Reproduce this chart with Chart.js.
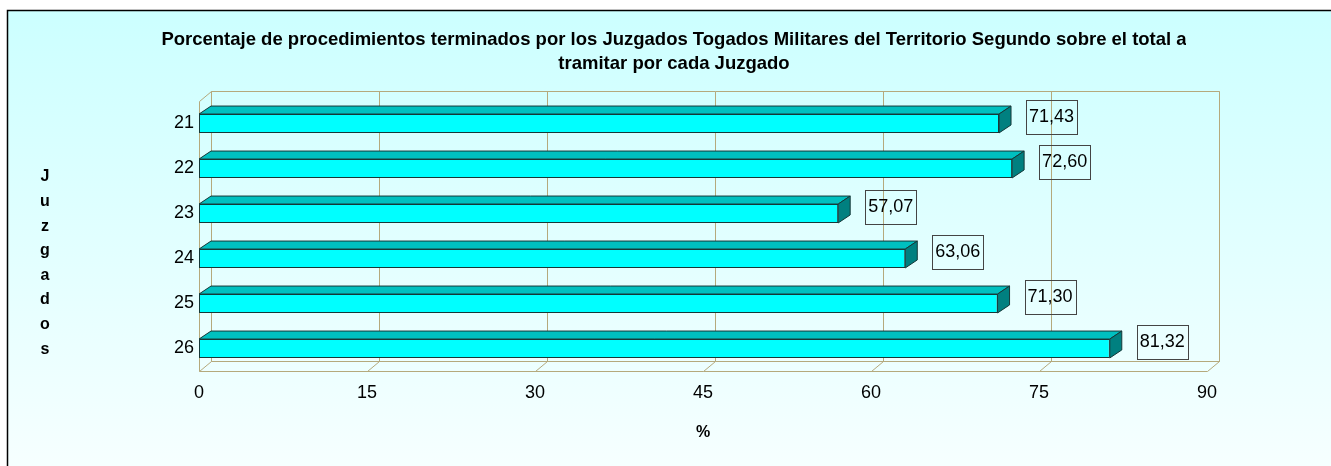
<!DOCTYPE html>
<html>
<head>
<meta charset="utf-8">
<script src="https://cdn.jsdelivr.net/npm/chart.js@4.4.1/dist/chart.umd.min.js"></script>
<style>
body { margin: 0; background: #fff; }
canvas { display: block; }
</style>
</head>
<body>
<canvas id="grafico" width="1331" height="466"></canvas>
<script>
const juzgados = ["21", "22", "23", "24", "25", "26"];
const porcentajes = [71.43, 72.60, 57.07, 63.06, 71.30, 81.32];
const ticksX = [0, 15, 30, 45, 60, 75, 90];
const titulo = ["Porcentaje de procedimientos terminados por los Juzgados Togados Militares del Territorio Segundo sobre el total a",
                "tramitar por cada Juzgado"];
const tituloY = ["J", "u", "z", "g", "a", "d", "o", "s"];

const fuente = "'Liberation Sans', Arial, sans-serif";
const DX = 12, DY = -10;   // profundidad de las paredes
const BX = 12, BY = -8;    // profundidad de las barras
const colorPared = "#b5a97c";

// fondo degradado, marco y titulos
const fondo = {
  id: "fondo",
  beforeDraw(chart) {
    const ctx = chart.ctx;
    ctx.save();
    const g = ctx.createLinearGradient(0, 10, 0, chart.height);
    g.addColorStop(0, "#ccffff");
    g.addColorStop(1, "#f6ffff");
    ctx.fillStyle = g;
    ctx.fillRect(7, 10, chart.width - 7, chart.height - 10);
    ctx.strokeStyle = "#000";
    ctx.lineWidth = 1.5;
    ctx.beginPath();
    ctx.moveTo(7.5, chart.height);
    ctx.lineTo(7.5, 10.5);
    ctx.lineTo(chart.width, 10.5);
    ctx.stroke();

    ctx.fillStyle = "#000";
    ctx.textAlign = "center";
    ctx.textBaseline = "middle";

    // titulo (recortado a la derecha como en el original)
    ctx.save();
    ctx.beginPath();
    ctx.rect(0, 0, 1186, chart.height);
    ctx.clip();
    ctx.font = "bold 18.5px " + fuente;
    titulo.forEach((t, i) => ctx.fillText(t, 674, 40 + i * 24));
    ctx.restore();

    // titulo vertical del eje Y
    ctx.font = "bold 16px " + fuente;
    tituloY.forEach((l, i) => ctx.fillText(l, 45, 177 + i * 24.6));
    ctx.restore();
  }
};

// paredes 3D y lineas de division
const paredes = {
  id: "paredes",
  beforeDatasetsDraw(chart) {
    const ctx = chart.ctx;
    const a = chart.chartArea;
    const x = chart.scales.x;
    ctx.save();
    ctx.strokeStyle = colorPared;
    ctx.lineWidth = 1;
    ctx.beginPath();
    // pared del fondo
    ctx.rect(Math.round(a.left + DX) + 0.5, Math.round(a.top + DY) + 0.5,
      Math.round(a.right - a.left), Math.round(a.bottom - a.top));
    // pared izquierda
    ctx.moveTo(a.left + 0.5, a.top + 0.5);
    ctx.lineTo(a.left + 0.5, a.bottom + 0.5);
    ctx.moveTo(a.left + 0.5, a.top + 0.5);
    ctx.lineTo(a.left + DX + 0.5, a.top + DY + 0.5);
    // suelo
    ctx.moveTo(a.left + 0.5, a.bottom + 0.5);
    ctx.lineTo(a.right + 0.5, a.bottom + 0.5);
    ticksX.forEach(v => {
      const px = Math.round(x.getPixelForValue(v)) + 0.5;
      ctx.moveTo(px, a.bottom + 0.5);
      ctx.lineTo(px + DX, a.bottom + DY + 0.5);
      ctx.lineTo(px + DX, a.top + DY + 0.5);
    });
    ctx.stroke();
    ctx.restore();
  }
};

// caras superior y lateral de las barras, y etiquetas
const barras3d = {
  id: "barras3d",
  afterDatasetsDraw(chart) {
    const ctx = chart.ctx;
    const meta = chart.getDatasetMeta(0);
    ctx.save();
    ctx.lineWidth = 1;
    meta.data.forEach((bar, i) => {
      const x0 = bar.base, x1 = bar.x;
      const top = bar.y - bar.height / 2, bot = bar.y + bar.height / 2;
      ctx.strokeStyle = "#163838";
      ctx.fillStyle = "#00c0c0";
      ctx.beginPath();
      ctx.moveTo(x0, top);
      ctx.lineTo(x0 + BX, top + BY);
      ctx.lineTo(x1 + BX, top + BY);
      ctx.lineTo(x1, top);
      ctx.closePath();
      ctx.fill();
      ctx.stroke();
      ctx.fillStyle = "#008080";
      ctx.beginPath();
      ctx.moveTo(x1, top);
      ctx.lineTo(x1 + BX, top + BY);
      ctx.lineTo(x1 + BX, bot + BY);
      ctx.lineTo(x1, bot);
      ctx.closePath();
      ctx.fill();
      ctx.stroke();

      // etiqueta con marco
      const txt = porcentajes[i].toFixed(2).replace(".", ",");
      ctx.font = "18px " + fuente;
      const w = ctx.measureText(txt).width + 6;
      const bx = x1 + 27, by = bar.y - 7 - 17;
      ctx.strokeStyle = "#444";
      ctx.strokeRect(Math.round(bx) + 0.5, Math.round(by) + 0.5, Math.round(w), 34);
      ctx.fillStyle = "#000";
      ctx.textAlign = "center";
      ctx.textBaseline = "middle";
      ctx.fillText(txt, bx + w / 2, by + 18);
    });
    ctx.restore();
  }
};

new Chart(document.getElementById("grafico"), {
  type: "bar",
  data: {
    labels: juzgados,
    datasets: [{
      data: porcentajes,
      backgroundColor: "#00ffff",
      borderColor: "#163838",
      borderWidth: 1,
      borderSkipped: false,
      barPercentage: 0.42,
      categoryPercentage: 1
    }]
  },
  options: {
    indexAxis: "y",
    responsive: false,
    animation: false,
    layout: { padding: { left: 0, right: 124, top: 101, bottom: 0 } },
    plugins: {
      legend: { display: false },
      tooltip: { enabled: false },
      title: { display: false }
    },
    scales: {
      x: {
        min: 0,
        max: 90,
        afterBuildTicks(scale) { scale.ticks = ticksX.map(v => ({ value: v })); },
        afterFit(scale) { scale.height = 95; },
        grid: { display: false, drawTicks: false },
        border: { display: false },
        ticks: { color: "#000", padding: 11, font: { family: fuente, size: 18 } },
        title: {
          display: true,
          text: "%",
          color: "#000",
          font: { family: fuente, size: 16, weight: "bold" },
          padding: { top: 4, bottom: 24 }
        }
      },
      y: {
        afterFit(scale) { scale.width = 199; },
        grid: { display: false, drawTicks: false },
        border: { display: false },
        ticks: { color: "#000", padding: 5, font: { family: fuente, size: 18 } }
      }
    }
  },
  plugins: [fondo, paredes, barras3d]
});
</script>
</body>
</html>
